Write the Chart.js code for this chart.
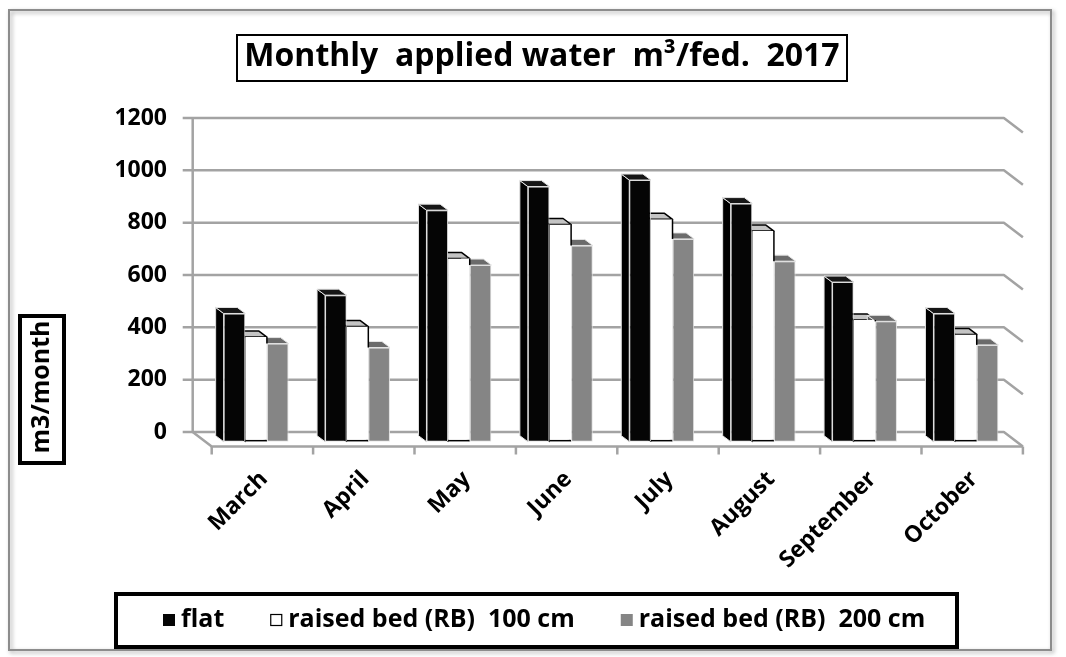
<!DOCTYPE html>
<html>
<head>
<meta charset="utf-8">
<title>Monthly applied water 2017</title>
<script src="https://cdn.jsdelivr.net/npm/chart.js@4.4.1/dist/chart.umd.min.js"></script>
<style>
    html, body { margin: 0; padding: 0; background: #fff; }
    #wrap { width: 1066px; height: 657px; }
</style>
</head>
<body>
<div id="wrap"><canvas id="waterChart" width="1066" height="657"></canvas></div>
<script>
// Data
const months = ["March", "April", "May", "June", "July", "August", "September", "October"];
const flat = [490, 560, 885, 975, 1000, 910, 610, 490];
const raisedBed100 = [400, 440, 700, 830, 850, 805, 465, 410];
const raisedBed200 = [375, 360, 675, 750, 775, 690, 460, 370];
const yTicks = [0, 200, 400, 600, 800, 1000, 1200];
const seriesNames = ["flat", "raised bed (RB)  100 cm", "raised bed (RB)  200 cm"];
const chartTitle = "Monthly  applied water  m\u00b3/fed.  2017";
const yTitle = "m3/month";

const FONT = "'Open Sans', Lato, sans-serif";

// fake 3D offsets (px), measured from the bar front plane
const BAR_DEPTH = { x: -8, y: -6 };
const WALL = { x: -12.7, y: -9.7 };
const FLOOR = { x: 6.3, y: 4.8 };

const faceColors = [
    { front: "#050505", side: "#000000", top: "#161616", edge: "#e4e4e4" },
    { front: "#ffffff", side: "#c4c4c4", top: "#c4c4c4", edge: "#000000" },
    { front: "#858585", side: "#5c5c5c", top: "#6b6b6b", edge: "#e4e4e4" },
];

// Back wall, floor and grid
const wallsPlugin = {
    id: "walls3d",
    beforeDatasetsDraw(chart) {
        const { ctx, chartArea, scales } = chart;
        const y = scales.y;
        const x = scales.x;
        const bl = chartArea.left + WALL.x;
        const br = chartArea.right + WALL.x;
        const dx = FLOOR.x - WALL.x;
        const dy = FLOOR.y - WALL.y;
        const top = y.getPixelForValue(yTicks[yTicks.length - 1]) + WALL.y;
        const zero = y.getPixelForValue(0) + WALL.y;

        ctx.save();
        ctx.strokeStyle = "#a3a3a3";
        ctx.lineWidth = 2.5;
        ctx.lineJoin = "round";
        yTicks.forEach((v) => {
            const py = y.getPixelForValue(v) + WALL.y;
            ctx.beginPath();
            ctx.moveTo(bl - 10, py);
            ctx.lineTo(br, py);
            ctx.lineTo(br + dx, py + dy);
            ctx.stroke();
        });
        ctx.beginPath();
        ctx.moveTo(bl, top);
        ctx.lineTo(bl, zero);
        ctx.lineTo(bl + dx, zero + dy);
        ctx.lineTo(br + dx, zero + dy);
        ctx.stroke();

        // category ticks on the front edge of the floor
        const fy = zero + dy;
        for (let i = 0; i <= months.length; i++) {
            const px = x.getPixelForValue(i - 0.5) + FLOOR.x;
            ctx.beginPath();
            ctx.moveTo(px, fy);
            ctx.lineTo(px, fy + 8);
            ctx.stroke();
        }
        ctx.restore();

        // side and top faces of the bars
        ctx.save();
        ctx.lineJoin = "round";
        chart.data.datasets.forEach((ds, di) => {
            const meta = chart.getDatasetMeta(di);
            const c = faceColors[di];
            meta.data.forEach((bar) => {
                const p = bar.getProps(["x", "y", "base", "width"], true);
                const l = p.x - p.width / 2;
                const r = p.x + p.width / 2;
                const t = p.y;
                const b = p.base;
                // left side
                ctx.beginPath();
                ctx.moveTo(l, t);
                ctx.lineTo(l + BAR_DEPTH.x, t + BAR_DEPTH.y);
                ctx.lineTo(l + BAR_DEPTH.x, b + BAR_DEPTH.y);
                ctx.lineTo(l, b);
                ctx.closePath();
                ctx.fillStyle = c.side;
                ctx.fill();
                ctx.strokeStyle = di === 1 ? "#000" : c.edge;
                ctx.lineWidth = 1;
                ctx.stroke();
                // top
                ctx.beginPath();
                ctx.moveTo(l, t);
                ctx.lineTo(r, t);
                ctx.lineTo(r + BAR_DEPTH.x, t + BAR_DEPTH.y);
                ctx.lineTo(l + BAR_DEPTH.x, t + BAR_DEPTH.y);
                ctx.closePath();
                ctx.fillStyle = c.top;
                ctx.fill();
                ctx.lineWidth = di === 1 ? 1.5 : 1;
                ctx.strokeStyle = c.edge;
                ctx.stroke();
            });
        });
        ctx.restore();
    },
    afterDatasetsDraw(chart) {
        // dark edge on the right of the white bar, down to the grey bar
        const { ctx } = chart;
        const white = chart.getDatasetMeta(1).data;
        const grey = chart.getDatasetMeta(2).data;
        ctx.save();
        ctx.strokeStyle = "#000";
        ctx.lineWidth = 1.5;
        white.forEach((bar, i) => {
            const p = bar.getProps(["x", "y", "width"], true);
            const g = grey[i].getProps(["y"], true);
            if (g.y > p.y) {
                const rx = p.x + p.width / 2;
                ctx.beginPath();
                ctx.moveTo(rx, p.y);
                ctx.lineTo(rx, g.y);
                ctx.stroke();
            }
        });
        ctx.restore();
    },
};

// Frame, boxed title, boxed y title and legend
const decorPlugin = {
    id: "decor",
    beforeDraw(chart) {
        const { ctx } = chart;
        ctx.save();
        ctx.fillStyle = "#fff";
        ctx.fillRect(0, 0, chart.width, chart.height);
        ctx.shadowColor = "rgba(0,0,0,0.35)";
        ctx.shadowBlur = 4;
        ctx.shadowOffsetX = 2;
        ctx.shadowOffsetY = 2;
        ctx.strokeStyle = "#8c8c8c";
        ctx.lineWidth = 2;
        ctx.strokeRect(9, 10, 1042, 640);
        ctx.restore();
    },
    afterDraw(chart) {
        const { ctx } = chart;
        ctx.save();
        ctx.fillStyle = "#000";
        ctx.strokeStyle = "#000";

        // title
        ctx.font = "bold 32px " + FONT;
        ctx.textAlign = "center";
        ctx.textBaseline = "middle";
        ctx.fillText(chartTitle, 542, 57);
        ctx.lineWidth = 2;
        ctx.strokeRect(237, 35, 610, 46);

        // y axis title
        ctx.save();
        ctx.translate(42, 387);
        ctx.rotate(-Math.PI / 2);
        ctx.font = "bold 25px " + FONT;
        ctx.fillText(yTitle, 0, 0);
        ctx.restore();
        ctx.lineWidth = 4;
        ctx.strokeRect(20, 316, 44, 147);

        // legend
        ctx.lineWidth = 4;
        ctx.strokeRect(116, 594, 841, 53);
        ctx.font = "bold 25px " + FONT;
        ctx.textAlign = "left";
        let lx = 163;
        const ly = 620;
        seriesNames.forEach((name, i) => {
            const c = faceColors[i];
            ctx.fillStyle = c.front;
            ctx.fillRect(lx, ly - 6, 12, 12);
            if (i === 1) {
                ctx.lineWidth = 1.2;
                ctx.strokeStyle = "#000";
                ctx.strokeRect(lx + 0.5, ly - 5.5, 11, 11);
            }
            ctx.fillStyle = "#000";
            ctx.fillText(name, lx + 18, ly);
            lx += 18 + ctx.measureText(name).width + 46;
        });
        ctx.restore();
    },
};

const ctx = document.getElementById("waterChart").getContext("2d");
const waterChart = new Chart(ctx, {
    type: "bar",
    data: {
        labels: months,
        datasets: [
            {
                label: seriesNames[0],
                data: flat,
                backgroundColor: faceColors[0].front,
                borderColor: "#dcdcdc",
                borderWidth: 1,
                borderSkipped: false,
            },
            {
                label: seriesNames[1],
                data: raisedBed100,
                backgroundColor: faceColors[1].front,
                borderColor: "#000",
                borderWidth: { top: 0, left: 0, right: 0, bottom: 2 },
                borderSkipped: false,
            },
            {
                label: seriesNames[2],
                data: raisedBed200,
                backgroundColor: faceColors[2].front,
                borderColor: "#e0e0e0",
                borderWidth: 1,
                borderSkipped: false,
            },
        ],
    },
    options: {
        responsive: false,
        animation: false,
        devicePixelRatio: 1,
        layout: {
            padding: { top: 127.7, right: 49.4, bottom: 75.3, left: 0 },
        },
        datasets: {
            bar: {
                barPercentage: 1.0,
                categoryPercentage: 0.64,
            },
        },
        plugins: {
            legend: { display: false },
            title: { display: false },
            tooltip: { enabled: false },
        },
        scales: {
            x: {
                grid: { display: false, drawTicks: false },
                border: { display: false },
                ticks: {
                    autoSkip: false,
                    minRotation: 45,
                    maxRotation: 45,
                    padding: 24,
                    labelOffset: 8,
                    color: "#000",
                    font: { family: FONT, weight: "bold", size: 23 },
                },
                afterFit: (scale) => {
                    scale.height = 140;
                },
            },
            y: {
                min: 0,
                max: 1200,
                grid: { display: false, drawTicks: false },
                border: { display: false },
                afterBuildTicks: (scale) => {
                    scale.ticks = yTicks.map((v) => ({ value: v }));
                },
                ticks: {
                    padding: 38.4,
                    labelOffset: -9.7,
                    color: "#000",
                    font: { family: FONT, weight: "bold", size: 23 },
                    callback: (value) => String(value),
                },
                afterFit: (scale) => {
                    scale.width = 205.4;
                },
            },
        },
    },
    plugins: [wallsPlugin, decorPlugin],
});
</script>
</body>
</html>
